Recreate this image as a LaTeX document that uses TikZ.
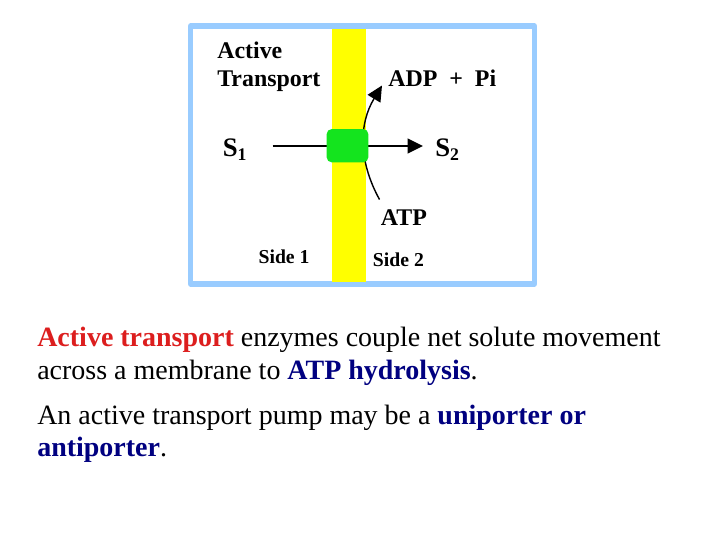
\documentclass[tikz,border=0pt]{standalone}
\usepackage{fontspec}
\setmainfont{Liberation Serif}
\usetikzlibrary{arrows.meta}
\definecolor{frameblue}{RGB}{153,204,255}
\definecolor{memyellow}{RGB}{255,255,0}
\definecolor{pumpgreen}{RGB}{20,228,30}
\definecolor{navyblue}{RGB}{0,0,128}
\definecolor{actred}{RGB}{220,30,30}
\newcommand{\subnum}[1]{\raisebox{-2.4pt}{\fontsize{12.6}{12.6}\selectfont #1}}
\begin{document}
\begin{tikzpicture}[x=0.025cm, y=-0.025cm, line join=round, >={Triangle[length=11pt,width=10.5pt]},
  lbl/.style={font=\fontsize{17}{20}\selectfont\bfseries, inner sep=0pt, anchor=base west},
  sidelbl/.style={font=\fontsize{14}{16}\selectfont\bfseries, inner sep=0pt, anchor=base west},
  slbl/.style={font=\fontsize{19}{22}\selectfont\bfseries, inner sep=0pt, anchor=base west},
  body/.style={font=\fontsize{19.9}{24}\selectfont, inner sep=0pt, anchor=base west}]
\useasboundingbox (0,0) rectangle (720,540);
\draw[frameblue, line width=3.6pt] (190.5,26) rectangle (534.5,284);
\fill[memyellow] (331.5,28.5) rectangle (366,281.5);
\coordinate (s1in) at (272.7,146);
\coordinate (s2in) at (423,146);
\coordinate (atpend) at (379.5,199.5);
\coordinate (adptip) at (382,85.5);
\draw[->, line width=1.4pt] (s1in) -- (s2in);
\draw[->, line width=1pt] (atpend) to[bend left=30] (adptip);
\node[fill=pumpgreen, rounded corners=3.5pt, minimum width=1.04cm, minimum height=0.83cm, inner sep=0pt] (pump) at (347.5,145.7) {};
\node[lbl] (act) at (217,58.3) {Active};
\node[lbl] (trans) at (217,86.3) {Transport};
\node[lbl] (adp) at (388,86.7) {ADP~~+~~Pi};
\node[lbl] (atp) at (380.7,225) {ATP};
\node[slbl] (s1) at (222.5,156.7) {S\subnum{1}};
\node[slbl] (s2) at (435,156.7) {S\subnum{2}};
\node[sidelbl] (side1) at (258.3,263) {Side 1};
\node[sidelbl] (side2) at (372.7,266) {Side 2};
\node[body] (line1) at (37,346) {\textcolor{actred}{\bfseries Active transport} enzymes couple net solute movement};
\node[body] (line2) at (37,379.5) {across a membrane to \textcolor{navyblue}{\bfseries ATP hydrolysis}.};
\node[body] (line3) at (37,424.5) {An active transport pump may be a \textcolor{navyblue}{\bfseries uniporter or}};
\node[body] (line4) at (37,456) {\textcolor{navyblue}{\bfseries antiporter}.};
\end{tikzpicture}
\end{document}
